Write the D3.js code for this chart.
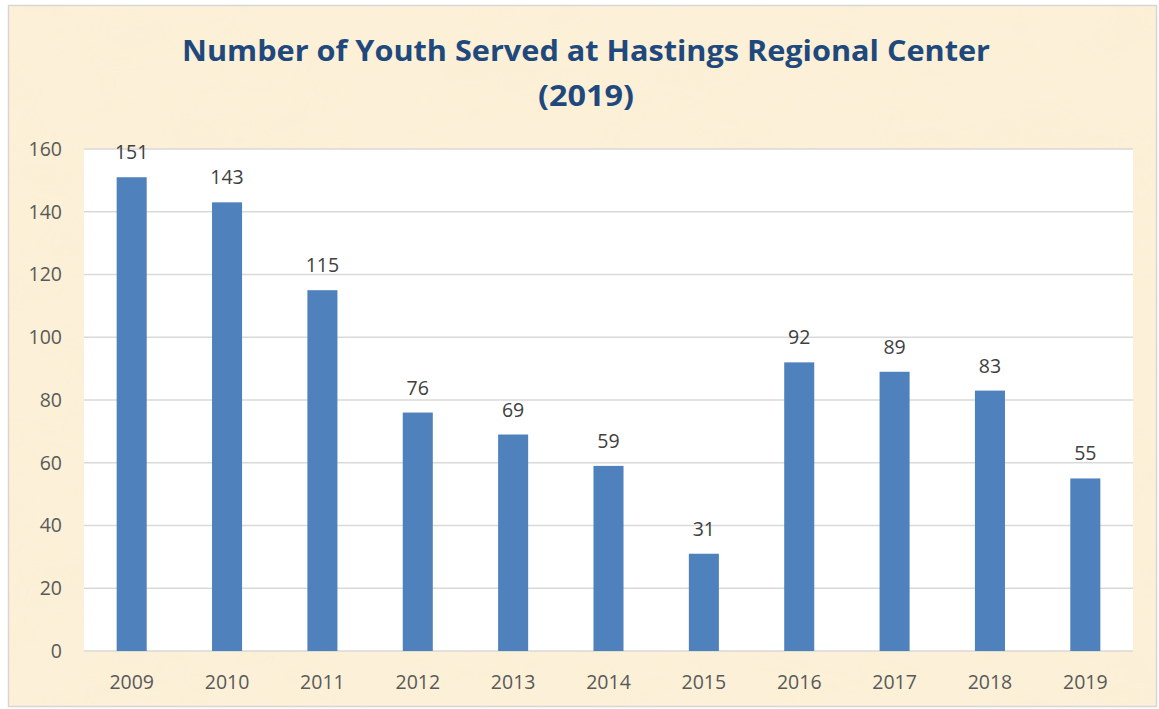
<!DOCTYPE html>
<html>
<head>
<meta charset="utf-8">
<script src="https://cdn.jsdelivr.net/npm/d3@7"></script>
<style>
  html, body { margin: 0; padding: 0; background: #fff; }
  svg { display: block; }
</style>
</head>
<body>
<div id="chart"></div>
<script>
// chart data
var years = ["2009", "2010", "2011", "2012", "2013", "2014", "2015", "2016", "2017", "2018", "2019"];
var youthServed = [151, 143, 115, 76, 69, 59, 31, 92, 89, 83, 55];
var yTicks = [0, 20, 40, 60, 80, 100, 120, 140, 160];
var titleLines = ["Number of Youth Served at Hastings Regional Center", "(2019)"];

var W = 1159, H = 709;
var plot = { left: 84, right: 1133, top: 149, bottom: 651 };

var svg = d3.select("#chart").append("svg")
    .attr("width", W).attr("height", H);

//parchment texture
var defs = svg.append("defs");
var f = defs.append("filter").attr("id", "paper")
    .attr("x", 0).attr("y", 0).attr("width", "100%").attr("height", "100%");
f.append("feTurbulence").attr("type", "fractalNoise")
    .attr("baseFrequency", "0.012 0.018").attr("numOctaves", 3).attr("seed", 7).attr("result", "noise");
f.append("feColorMatrix").attr("in", "noise").attr("type", "matrix")
    .attr("values", "0 0 0 0 0.96  0 0 0 0 0.86  0 0 0 0 0.66  0 0 0 0.9 -0.25")
    .attr("result", "tint");
f.append("feComposite").attr("in", "tint").attr("in2", "SourceGraphic").attr("operator", "in");

svg.append("rect").attr("x", 8).attr("y", 5).attr("width", W - 10).attr("height", H - 7)
    .attr("fill", "#fcf1d8");
svg.append("rect").attr("x", 8).attr("y", 5).attr("width", W - 10).attr("height", H - 7)
    .attr("fill", "#fcf1d8").attr("filter", "url(#paper)");
svg.append("rect").attr("x", 8.5).attr("y", 5.5).attr("width", W - 11).attr("height", H - 8)
    .attr("fill", "none").attr("stroke", "#d6d6d6").attr("stroke-width", 1.5);

/* TITLE */
svg.append("text")
    .attr("x", 586).attr("y", 61)
    .attr("text-anchor", "middle")
    .attr("font-family", "'Open Sans', sans-serif").attr("font-weight", "bold")
    .attr("font-size", 28).attr("fill", "#1f497d")
    .attr("textLength", 808).attr("lengthAdjust", "spacingAndGlyphs")
    .text(titleLines[0]);
svg.append("text")
    .attr("x", 586).attr("y", 106)
    .attr("text-anchor", "middle")
    .attr("font-family", "'Open Sans', sans-serif").attr("font-weight", "bold")
    .attr("font-size", 28).attr("fill", "#1f497d")
    .attr("textLength", 96).attr("lengthAdjust", "spacingAndGlyphs")
    .text(titleLines[1]);

/* SCALES */
var x = d3.scaleBand().domain(years).range([plot.left, plot.right])
    .paddingInner(0.685).paddingOuter(0.3425);
var y = d3.scaleLinear().domain([0, 160]).range([plot.bottom, plot.top]);

svg.append("rect").attr("x", plot.left).attr("y", plot.top)
    .attr("width", plot.right - plot.left).attr("height", plot.bottom - plot.top)
    .attr("fill", "#ffffff");

//gridlines
svg.append("g").selectAll("line").data(yTicks).enter().append("line")
    .attr("x1", plot.left).attr("x2", plot.right)
    .attr("y1", function (d) { return y(d); }).attr("y2", function (d) { return y(d); })
    .attr("stroke", "#d9d9d9").attr("stroke-width", 1.5);

/* AXES */
var yAxis = svg.append("g").attr("transform", "translate(" + plot.left + ",0)")
    .call(d3.axisLeft(y).tickValues(yTicks).tickSize(0).tickPadding(22));
yAxis.select(".domain").remove();
yAxis.selectAll("text").attr("font-family", "'Open Sans', sans-serif")
    .attr("font-size", 19.5).attr("fill", "#595959");

var xAxis = svg.append("g").attr("transform", "translate(0," + plot.bottom + ")")
    .call(d3.axisBottom(x).tickSize(0).tickPadding(24));
xAxis.select(".domain").remove();
xAxis.selectAll("text").attr("font-family", "'Open Sans', sans-serif")
    .attr("font-size", 19.5).attr("fill", "#595959");

/* BARS */
svg.append("g").selectAll("rect").data(youthServed).enter().append("rect")
    .attr("x", function (d, i) { return x(years[i]); })
    .attr("y", function (d) { return y(d); })
    .attr("width", x.bandwidth())
    .attr("height", function (d) { return plot.bottom - y(d); })
    .attr("fill", "#4f81bd");

//data labels
svg.append("g").selectAll("text").data(youthServed).enter().append("text")
    .attr("x", function (d, i) { return x(years[i]) + x.bandwidth() / 2; })
    .attr("y", function (d) { return y(d) - 18; })
    .attr("text-anchor", "middle")
    .attr("font-family", "'Open Sans', sans-serif")
    .attr("font-size", 19.5).attr("fill", "#404040")
    .text(function (d) { return d; });
</script>
</body>
</html>
